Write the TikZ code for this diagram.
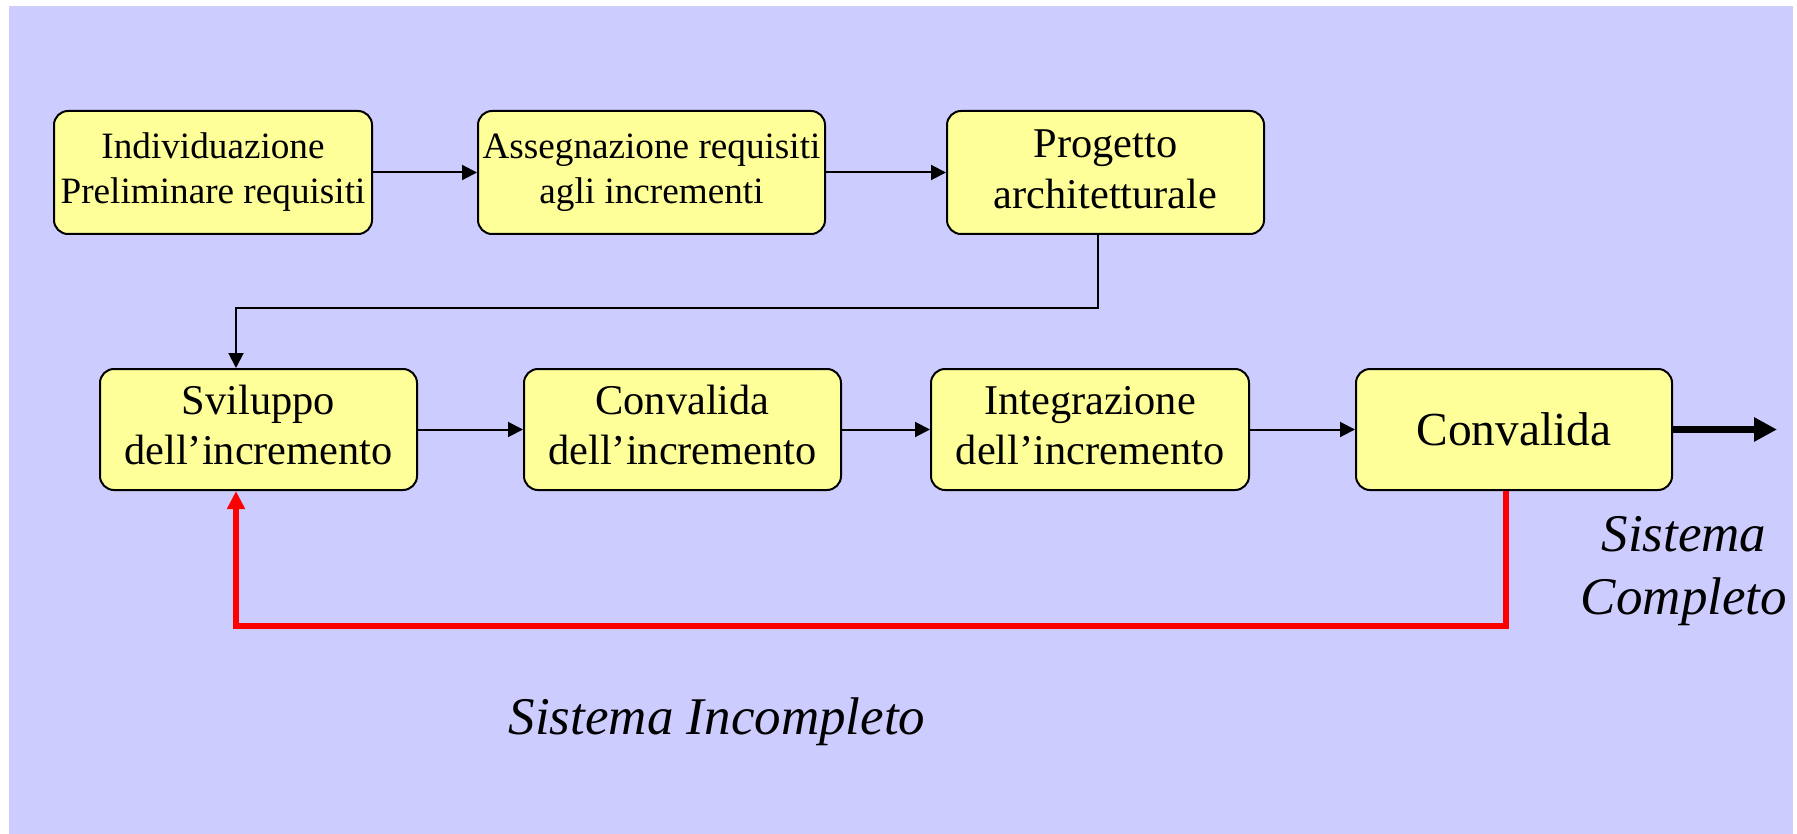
\documentclass[tikz,border=0pt]{standalone}
\usepackage{fontspec}
\setmainfont{Liberation Serif}
\usetikzlibrary{arrows.meta}
\definecolor{bgblue}{HTML}{CCCCFF}
\definecolor{boxyellow}{HTML}{FFFF99}
\newcommand{\boxtext}[2]{\raisebox{#1}{\begin{tabular}{@{}c@{}}#2\end{tabular}}}
\begin{document}
\begin{tikzpicture}[x=0.5pt,y=-0.5pt,
  box/.style={draw=black, line width=1pt, fill=boxyellow, rounded corners=7pt,
    inner sep=0pt, minimum height=61.5pt},
  fsmall/.style={font=\fontsize{18.6}{22.5}\selectfont},
  fmid/.style={font=\fontsize{21.2}{25}\selectfont},
  fprog/.style={font=\fontsize{21.2}{25.8}\selectfont},
  fbig/.style={font=\fontsize{23.7}{28}\selectfont},
  fital/.style={font=\fontsize{26.5}{31.5}\selectfont\itshape, align=center},
  conn/.style={draw=black, line width=1pt, -{Triangle[length=7.5pt,width=7.5pt]}},
  redconn/.style={draw=red, line width=3.3pt, -{Triangle[length=9pt,width=8.5pt]}},
  thickconn/.style={draw=black, line width=3.5pt, -{Triangle[length=11.5pt,width=11.5pt]}}
]
\useasboundingbox (0,0) rectangle (1797,834);
\fill[white] (0,0) rectangle (1797,834);
\fill[bgblue] (9,6) rectangle (1793,834);

\node[box, fsmall, minimum width=159pt] (n1) at (213,172.5) {\boxtext{-2.5pt}{Individuazione\\Preliminare requisiti}};
\node[box, fsmall, minimum width=173.5pt] (n2) at (651.5,172.5) {\boxtext{-2.5pt}{Assegnazione requisiti\\agli incrementi}};
\node[box, fprog, minimum width=158.5pt] (n3) at (1105.5,172.5) {\boxtext{-1.5pt}{Progetto\\architetturale}};

\node[box, fmid, minimum width=158.5pt, minimum height=60.5pt] (a) at (258.5,429.5) {\boxtext{-1pt}{Sviluppo\\dell’incremento}};
\node[box, fmid, minimum width=158.5pt, minimum height=60.5pt] (b) at (682.5,429.5) {\boxtext{-1pt}{Convalida\\dell’incremento}};
\node[box, fmid, minimum width=159pt, minimum height=60.5pt] (c) at (1090,429.5) {\boxtext{-1pt}{Integrazione\\dell’incremento}};
\node[box, fbig, minimum width=158pt, minimum height=60.5pt] (d) at (1514,429.5) {Convalida};

\coordinate (p1) at (1098,308);
\coordinate (p2) at (236,308);
\coordinate (q1) at (1506,626);
\coordinate (q2) at (236,626);
\coordinate (e) at (1777,429.5);

\draw[conn] (n1.east) -- (n2.west);
\draw[conn] (n2.east) -- (n3.west);
\draw[conn] (n3.south -| p1) -- (p1) -- (p2) -- (p2 |- a.north);
\draw[conn] (a.east) -- (b.west);
\draw[conn] (b.east) -- (c.west);
\draw[conn] (c.east) -- (d.west);
\draw[thickconn] (d.east) -- (e);
\draw[redconn] (d.south -| q1) -- (q1) -- (q2) -- (q2 |- a.south);

\node[fital] (sc) at (1684,571.5) {Sistema\\Completo};
\node[fital] (si) at (717,722) {Sistema Incompleto};
\end{tikzpicture}
\end{document}
